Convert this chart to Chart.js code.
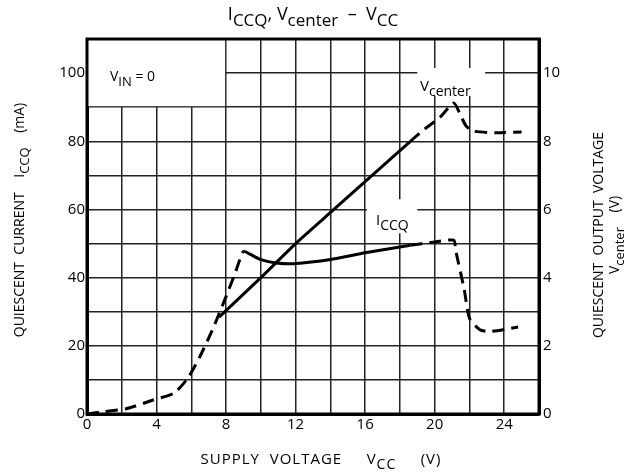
<!DOCTYPE html>
<html>
<head>
<meta charset="utf-8">
<script src="https://cdn.jsdelivr.net/npm/chart.js@4"></script>
<style>
  html, body { margin: 0; padding: 0; background: #fff; }
  #wrap { width: 626px; height: 473px; }
</style>
</head>
<body>
<div id="wrap"><canvas id="myChart" width="626" height="473"></canvas></div>
<script>
// Donnees
const iccqX = [0, 1, 2.3, 3.8, 5.0, 5.8, 6.5, 7.3, 8.0, 8.5, 9.0, 9.4, 10.0, 10.9, 11.9, 14.0, 16.0, 18.6, 19.9, 21.1, 21.2, 21.7, 22.0, 22.6, 23.2, 24.8]
const iccqMa = [0, 0.7, 1.6, 4.1, 6.1, 10.5, 16.9, 25.7, 34.5, 41, 47.7, 46.8, 45.3, 44.3, 44.1, 45.3, 47.3, 49.5, 50.4, 51, 48.2, 36.5, 28.1, 24.7, 24.2, 25.5]
const vcenterX = [7.6, 10, 12, 14.2, 16.4, 18.6, 19.4, 20.3, 21.1, 21.5, 21.8, 22.2, 23.5, 25.0]
const vcenterV = [2.84, 4.0, 5.0, 6.0, 7.0, 8.0, 8.35, 8.7, 9.12, 8.75, 8.45, 8.3, 8.25, 8.27]
const xTicks = [0, 4, 8, 12, 16, 20, 24]
const leftTicks = [0, 20, 40, 60, 80, 100]
const rightTicks = [0, 2, 4, 6, 8, 10]

const FONT = "'Open Sans', 'DejaVu Sans', sans-serif"
const DASH = [12, 7]

// Texte avec indice (ex: I + CCQ)
function subText(ctx, parts, x, y, size, align) {
    let w = 0
    parts.forEach(p => {
        ctx.font = (p.sub ? size - 1 : size) + "px " + FONT
        w += ctx.measureText(p.t).width
    })
    let cx = align === "center" ? x - w / 2 : x
    parts.forEach(p => {
        ctx.font = (p.sub ? size - 1 : size) + "px " + FONT
        ctx.textAlign = "left"
        ctx.textBaseline = "alphabetic"
        ctx.fillText(p.t, cx, p.sub ? y + size * 0.33 : y)
        cx += ctx.measureText(p.t).width
    })
}

const decor = {
    id: "decor",
    beforeDatasetsDraw(chart) {
        const { ctx, scales: { x, y } } = chart
        const ca = chart.chartArea
        ctx.save()
        ctx.fillStyle = "#fff"
        // cadre V_IN = 0
        ctx.fillRect(ca.left + 1, ca.top + 1, x.getPixelForValue(8) - ca.left - 2, y.getPixelForValue(90) - ca.top - 2)
        // trou pour Vcenter
        ctx.fillRect(x.getPixelForValue(19.0), y.getPixelForValue(101.5), x.getPixelForValue(22.9) - x.getPixelForValue(19.0), y.getPixelForValue(93.3) - y.getPixelForValue(101.5))
        // trou pour ICCQ
        ctx.fillRect(x.getPixelForValue(16.1), y.getPixelForValue(63), x.getPixelForValue(19.0) - x.getPixelForValue(16.1), y.getPixelForValue(53) - y.getPixelForValue(63))
        ctx.restore()
    },
    afterDraw(chart) {
        const { ctx } = chart
        const ca = chart.chartArea
        ctx.save()
        // cadre complet
        ctx.strokeStyle = "#000"
        ctx.lineWidth = 3
        ctx.strokeRect(ca.left, ca.top, ca.right - ca.left, ca.bottom - ca.top)
        ctx.fillStyle = "#000"
        // titre
        subText(ctx, [{ t: "I" }, { t: "CCQ", sub: true }, { t: ", V" }, { t: "center", sub: true }, { t: "  –  V" }, { t: "CC", sub: true }], 313, 20, 18, "center")
        // etiquettes dans le graphique
        subText(ctx, [{ t: "V" }, { t: "IN", sub: true }, { t: " = 0" }], 110, 81, 14, "left")
        subText(ctx, [{ t: "V" }, { t: "center", sub: true }], 420, 91, 15, "left")
        subText(ctx, [{ t: "I" }, { t: "CCQ", sub: true }], 376, 225, 15, "left")
        // titre axe x
        ctx.letterSpacing = "1px"
        subText(ctx, [{ t: "SUPPLY  VOLTAGE     V" }, { t: "CC", sub: true }, { t: "     (V)" }], 321, 464, 15, "center")
        ctx.letterSpacing = "0px"
        // titre axe gauche
        ctx.save()
        ctx.translate(24, 220)
        ctx.rotate(-Math.PI / 2)
        subText(ctx, [{ t: "QUIESCENT  CURRENT    I" }, { t: "CCQ", sub: true }, { t: "    (mA)" }], 0, 0, 14, "center")
        ctx.restore()
        // titre axe droit
        ctx.save()
        ctx.translate(603, 235)
        ctx.rotate(-Math.PI / 2)
        subText(ctx, [{ t: "QUIESCENT  OUTPUT  VOLTAGE" }], 0, 0, 14, "center")
        subText(ctx, [{ t: "V" }, { t: "center", sub: true }, { t: "    (V)" }], 0, 16, 14, "center")
        ctx.restore()
        ctx.restore()
    }
}

new Chart(document.getElementById("myChart"), {
    type: "line",
    data: {
        datasets: [{
            label: "ICCQ",
            data: iccqX.map((v, i) => ({ x: v, y: iccqMa[i] })),
            yAxisID: "y",
            borderColor: "#000",
            borderWidth: 3,
            pointRadius: 0,
            tension: 0.2,
            segment: {
                borderDash: c => (c.p0.parsed.x < 9 || c.p0.parsed.x >= 18.6) ? DASH : undefined
            }
        }, {
            label: "Vcenter",
            data: vcenterX.map((v, i) => ({ x: v, y: vcenterV[i] })),
            yAxisID: "y1",
            borderColor: "#000",
            borderWidth: 3,
            pointRadius: 0,
            tension: 0.2,
            segment: {
                borderDash: c => c.p0.parsed.x >= 18.6 ? DASH : undefined
            }
        }]
    },
    options: {
        responsive: false,
        animation: false,
        layout: { padding: { top: 39, left: 0, right: 0, bottom: 0 } },
        plugins: { legend: { display: false }, tooltip: { enabled: false } },
        scales: {
            x: {
                type: "linear",
                min: 0, max: 26,
                ticks: {
                    stepSize: 2,
                    color: "#000",
                    padding: 2,
                    font: { family: FONT, size: 15 },
                    callback: v => xTicks.includes(v) ? v : ""
                },
                grid: { color: "#222", lineWidth: 1.5, drawTicks: false },
                border: { color: "#000", width: 3 },
                afterFit: s => { s.height = 59 }
            },
            y: {
                position: "left",
                min: 0, max: 110,
                ticks: {
                    stepSize: 10,
                    color: "#000",
                    padding: 2,
                    font: { family: FONT, size: 15 },
                    callback: v => leftTicks.includes(v) ? v : ""
                },
                grid: { color: "#222", lineWidth: 1.5, drawTicks: false },
                border: { color: "#000", width: 3 },
                afterFit: s => { s.width = 87 }
            },
            y1: {
                position: "right",
                min: 0, max: 11,
                ticks: {
                    stepSize: 1,
                    color: "#000",
                    padding: 4,
                    font: { family: FONT, size: 15 },
                    callback: v => rightTicks.includes(v) ? v : ""
                },
                grid: { display: false, drawTicks: false },
                border: { color: "#000", width: 3 },
                afterFit: s => { s.width = 87 }
            }
        }
    },
    plugins: [decor]
})
</script>
</body>
</html>
